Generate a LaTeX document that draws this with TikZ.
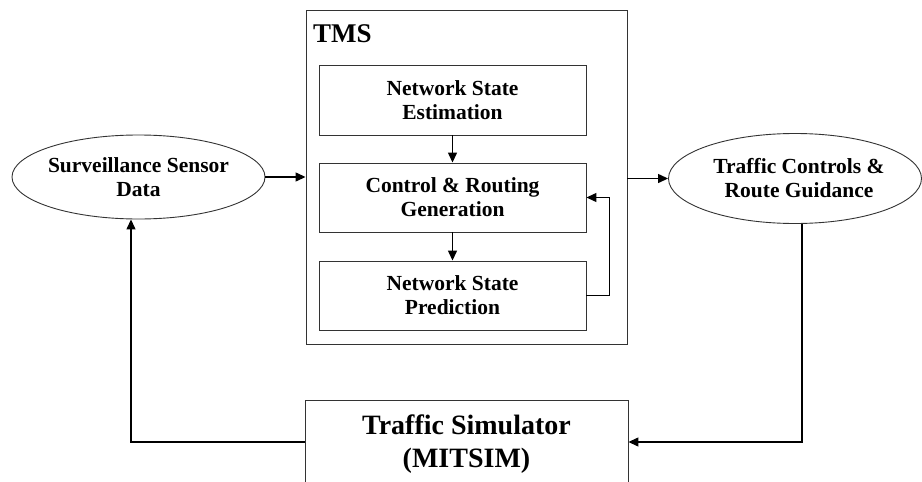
\documentclass[tikz,border=0pt]{standalone}
\usepackage{fontspec}
\setmainfont{Liberation Serif}
\usetikzlibrary{shapes.geometric,arrows.meta}

\tikzset{
  box/.style={draw=black!80, line width=0.9pt, inner sep=0pt, align=center,
              font=\fontsize{21.5}{24}\selectfont\bfseries},
  oval/.style={draw=black!80, line width=0.9pt, ellipse, inner sep=0pt},
  ovaltext/.style={inner sep=0pt, align=center,
              font=\fontsize{21.5}{24}\selectfont\bfseries},
  bigtext/.style={inner sep=0pt, align=center,
              font=\fontsize{28}{33}\selectfont\bfseries},
  arr/.style={line width=1.3pt, -{Triangle[length=10pt,width=9pt]}},
}

\begin{document}
\begin{tikzpicture}[x=1pt,y=-1pt]
  \useasboundingbox (0,0) rectangle (922,482);
  \begin{scope}
    \clip (0,0) rectangle (922,482);

    % TMS container and its three stages
    \node[draw=black!80, line width=0.9pt, minimum width=321, minimum height=334, inner sep=0pt]
      (tms) at (466.5,177) {};
    \node[anchor=base west, inner sep=0pt, font=\fontsize{27}{30}\selectfont\bfseries]
      (tmslabel) at (313,42) {TMS};
    \node[box, minimum width=267, minimum height=70] (nse) at (452.5,100)
      {Network State\\Estimation};
    \node[box, minimum width=267, minimum height=69] (crg) at (452.5,197.5)
      {Control \& Routing\\Generation};
    \node[box, minimum width=267, minimum height=69] (nsp) at (452.5,295.5)
      {Network State\\Prediction};

    % input and output ellipses
    \node[oval, minimum width=253, minimum height=84] (sensor) at (138.5,177) {};
    \node[ovaltext] (sensortext) at (138.5,177) {Surveillance Sensor\\Data};
    \node[oval, minimum width=253, minimum height=90] (guide) at (795,178.5) {};
    \node[ovaltext] (guidetext) at (799,178) {Traffic Controls \&\\Route Guidance};

    % simulator box
    \node[draw=black!80, line width=0.9pt, minimum width=323, minimum height=120, inner sep=0pt]
      (sim) at (466.5,460) {};
    \node[bigtext] (simtext) at (466.5,444) {Traffic Simulator\\(MITSIM)};

    % connectors
    \coordinate (bl) at (131,442);
    \coordinate (br) at (802,442);
    \draw[arr] (sensor.east) -- (tms.west |- sensor.east);
    \draw[arr] (tms.east |- guide.west) -- (guide.west);
    \draw[arr] (nse.south) -- (crg.north);
    \draw[arr] (crg.south) -- (nsp.north);
    \draw[arr] (nsp.east) -- ++(23,0) |- (crg.east);
    \draw[arr] (br |- guide.south) -- (br) -- (sim.east |- br);
    \draw[arr] (sim.west |- bl) -- (bl) -- (bl |- sensor.south);
  \end{scope}
\end{tikzpicture}
\end{document}
